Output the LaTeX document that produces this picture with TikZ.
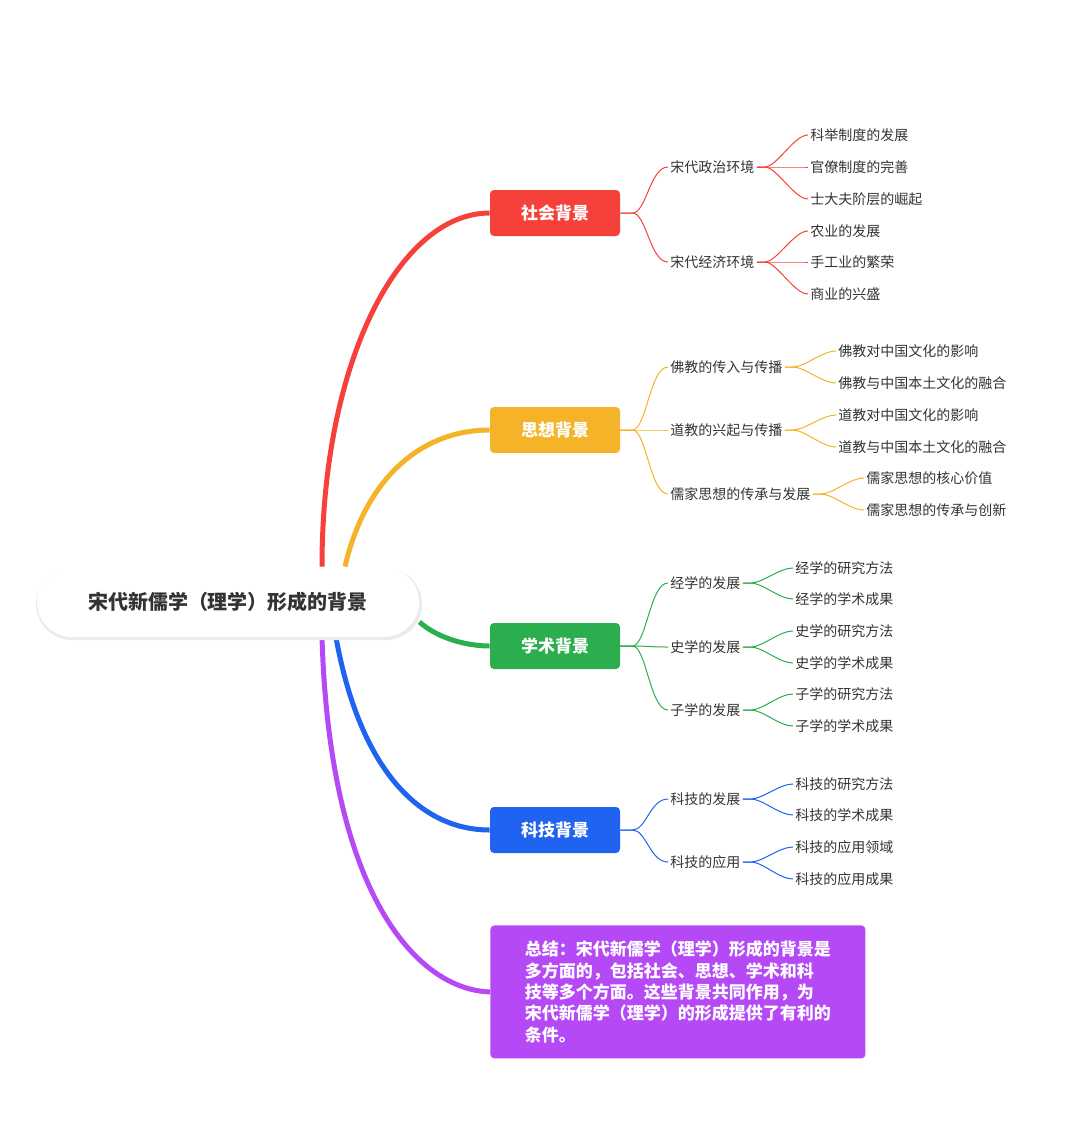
\documentclass[tikz,border=0pt]{standalone}
\usepackage{fontspec}
\setmainfont{Noto Sans CJK SC}
\usepackage{xcolor}
\usepackage{tikz}
\usetikzlibrary{backgrounds}

\definecolor{cred}{HTML}{F5413A}
\definecolor{cyel}{HTML}{F4B328}
\definecolor{cgrn}{HTML}{2BAE4E}
\definecolor{cblu}{HTML}{1F63F0}
\definecolor{cpur}{HTML}{B549F5}
\definecolor{ctxt}{HTML}{333333}

\tikzset{
  topic/.style={fill=#1, text=white, font=\fontsize{8.5}{10}\selectfont\bfseries, minimum width=65pt, minimum height=23pt, rounded corners=2pt, inner sep=0pt},
  sub/.style={anchor=west, text=ctxt, font=\fontsize{7}{8}\selectfont, inner sep=1pt},
  leaf/.style={anchor=west, text=ctxt, font=\fontsize{7}{8}\selectfont, inner sep=1pt},
  main/.style={line width=2.5pt, draw=#1},
  thin/.style={line width=0.5pt, draw=#1},
}

\begin{document}
\begin{tikzpicture}[x=0.5pt, y=-0.5pt]
\useasboundingbox (0,0) rectangle (1080,1130);
% root
\fill[black!8, rounded corners=18pt] (36,568) rectangle (422,640);
\node[fill=white, rounded corners=17.5pt, minimum width=191pt, minimum height=35pt, text=ctxt, font=\fontsize{10}{12}\selectfont\bfseries] (root) at (228,602) {宋代新儒学（理学）形成的背景};
% topics
\node[topic=cred] (sh) at (555,213) {社会背景};
\node[topic=cyel] (sx) at (555,430) {思想背景};
\node[topic=cgrn] (xs) at (555,646) {学术背景};
\node[topic=cblu] (kj) at (555,830) {科技背景};
\node[fill=cpur, text=white, anchor=north west, rounded corners=2pt, minimum width=187.5pt, minimum height=66.5pt, align=left, inner xsep=14pt, inner ysep=6pt, font=\fontsize{8.5}{10.7}\selectfont\bfseries] (zj) at (490,925)
  {总结：宋代新儒学（理学）形成的背景是\\多方面的，包括社会、思想、学术和科\\技等多个方面。这些背景共同作用，为\\宋代新儒学（理学）的形成提供了有利的\\条件。};

\begin{scope}[on background layer]
\draw[main=cred] (root.north -| 322,0) .. controls (322,360) and (400,213) .. (sh.west);
\draw[main=cyel] (root.north -| 345,0) .. controls (365,480) and (420,430) .. (sx.west);
\draw[main=cgrn] (root.east |- 0,622) .. controls (440,640) and (470,646) .. (xs.west);
\draw[main=cblu] (root.south -| 336,0) .. controls (360,770) and (420,830) .. (kj.west);
\draw[main=cpur] (root.south -| 322,0) .. controls (330,900) and (420,990) .. (zj.west);
\end{scope}

% sub topics
\node[sub] (sh1) at (668,167) {宋代政治环境};
\node[sub] (sh2) at (668,262) {宋代经济环境};
\node[sub] (sx1) at (668,367) {佛教的传入与传播};
\node[sub] (sx2) at (668,430) {道教的兴起与传播};
\node[sub] (sx3) at (668,494) {儒家思想的传承与发展};
\node[sub] (xs1) at (668,583) {经学的发展};
\node[sub] (xs2) at (668,647) {史学的发展};
\node[sub] (xs3) at (668,710) {子学的发展};
\node[sub] (kj1) at (668,799) {科技的发展};
\node[sub] (kj2) at (668,862) {科技的应用};

\foreach \p/\c/\col in {sh/sh1/cred, sh/sh2/cred, sx/sx1/cyel, sx/sx2/cyel, sx/sx3/cyel,
  xs/xs1/cgrn, xs/xs2/cgrn, xs/xs3/cgrn, kj/kj1/cblu, kj/kj2/cblu}
  \draw[thin=\col] (\p.east) -- +(12,0) .. controls +(14,0) and +(-18,0) .. (\c.west);

% leaves
\foreach \n/\x/\y/\t/\p/\col in {
  a1/808/135/科举制度的发展/sh1/cred, a2/808/167/官僚制度的完善/sh1/cred, a3/808/199/士大夫阶层的崛起/sh1/cred,
  a4/808/231/农业的发展/sh2/cred, a5/808/262/手工业的繁荣/sh2/cred, a6/808/294/商业的兴盛/sh2/cred,
  b1/836/351/佛教对中国文化的影响/sx1/cyel, b2/836/383/佛教与中国本土文化的融合/sx1/cyel,
  b3/836/415/道教对中国文化的影响/sx2/cyel, b4/836/447/道教与中国本土文化的融合/sx2/cyel,
  b5/864/478/儒家思想的核心价值/sx3/cyel, b6/864/510/儒家思想的传承与创新/sx3/cyel,
  c1/793/568/经学的研究方法/xs1/cgrn, c2/793/599/经学的学术成果/xs1/cgrn,
  c3/793/631/史学的研究方法/xs2/cgrn, c4/793/663/史学的学术成果/xs2/cgrn,
  c5/793/694/子学的研究方法/xs3/cgrn, c6/793/726/子学的学术成果/xs3/cgrn,
  d1/793/784/科技的研究方法/kj1/cblu, d2/793/815/科技的学术成果/kj1/cblu,
  d3/793/847/科技的应用领域/kj2/cblu, d4/793/879/科技的应用成果/kj2/cblu}
{
  \node[leaf] (\n) at (\x,\y) {\t};
  \draw[thin=\col] (\p.east) -- +(8,0) .. controls +(12,0) and +(-14,0) .. (\n.west);
}
\end{tikzpicture}
\end{document}
